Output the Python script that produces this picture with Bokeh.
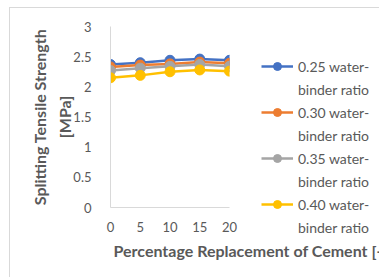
from bokeh.plotting import figure
from bokeh.models import Legend, LegendItem, Title, Range1d, FixedTicker
from bokeh.embed import file_html
from bokeh.resources import INLINE

replacement = [0, 5, 10, 15, 20]
wb025 = [2.37, 2.40, 2.44, 2.46, 2.44]
wb030 = [2.33, 2.36, 2.38, 2.41, 2.39]
wb035 = [2.27, 2.31, 2.34, 2.37, 2.34]
wb040 = [2.15, 2.19, 2.25, 2.28, 2.26]
series_first = ["0.25 water-", "0.30 water-", "0.35 water-", "0.40 water-"]
series_second = ["binder ratio", "binder ratio", "binder ratio", "binder ratio"]
colors = ["#4472C4", "#ED7D31", "#A5A5A5", "#FFC000"]
y_ticks = [0, 0.5, 1, 1.5, 2, 2.5, 3]
y_tick_labels = ["0", "0.5", "1", "1.5", "2", "2.5", "3"]

FONT = "Lato"
GRAY = "#595959"

p = figure(frame_width=119, frame_height=181, output_backend="svg", toolbar_location=None,
           x_range=Range1d(0, 20), y_range=Range1d(0, 3),
           min_border_left=100, min_border_top=18, min_border_bottom=70,
           min_border_right=148)
p.styles = {"margin-left": "9px", "margin-top": "7px",
            "border-left": "1px solid #d9d9d9", "border-top": "1px solid #d9d9d9"}
p.outline_line_color = None
p.xgrid.visible = False
p.ygrid.visible = False

blank = p.line([], [], line_alpha=0)
items = []
for ys, n1, n2, c in zip([wb025, wb030, wb035, wb040], series_first, series_second, colors):
    r1 = p.line(replacement, ys, line_color=c, line_width=2.5)
    r2 = p.scatter(replacement, ys, size=10, fill_color=c, line_color=c)
    items.append(LegendItem(label=n1, renderers=[r1, r2]))
    items.append(LegendItem(label=n2, renderers=[blank]))

for ax in (p.xaxis[0], p.yaxis[0]):
    ax.axis_line_color = "#D9D9D9"
    ax.axis_line_width = 1
    ax.major_tick_line_color = None
    ax.minor_tick_line_color = None
    ax.major_label_text_color = GRAY
    ax.major_label_text_font = FONT
    ax.major_label_text_font_size = "13px"

p.xaxis.ticker = FixedTicker(ticks=replacement)
p.xaxis.major_label_standoff = 8
p.yaxis.ticker = FixedTicker(ticks=y_ticks)
p.yaxis.major_label_overrides = {t: l for t, l in zip(y_ticks, y_tick_labels)}
p.yaxis.major_label_standoff = 13
p.yaxis.axis_label = "Splitting Tensile Strength\n[MPa]"
p.yaxis.axis_label_text_font = FONT
p.yaxis.axis_label_text_font_size = "16px"
p.yaxis.axis_label_text_font_style = "bold"
p.yaxis.axis_label_text_color = GRAY
p.yaxis.axis_label_text_line_height = 1.35
p.yaxis.axis_label_standoff = -4

xt = Title(text="Percentage Replacement of Cement [-]", align="left", offset=3,
           text_font=FONT, text_font_size="16px", text_font_style="bold",
           text_color=GRAY, standoff=8)
p.add_layout(xt, "below")

legend = Legend(items=items, location=(32, -30), orientation="vertical")
legend.border_line_color = None
legend.background_fill_alpha = 0
legend.label_text_font = FONT
legend.label_text_font_size = "14px"
legend.label_text_color = GRAY
legend.label_height = 20
legend.glyph_height = 20
legend.glyph_width = 32
legend.label_standoff = 5
legend.spacing = 3
legend.padding = 0
legend.margin = 0
p.add_layout(legend, "right")

open("out.html", "w").write(file_html(p, INLINE))
